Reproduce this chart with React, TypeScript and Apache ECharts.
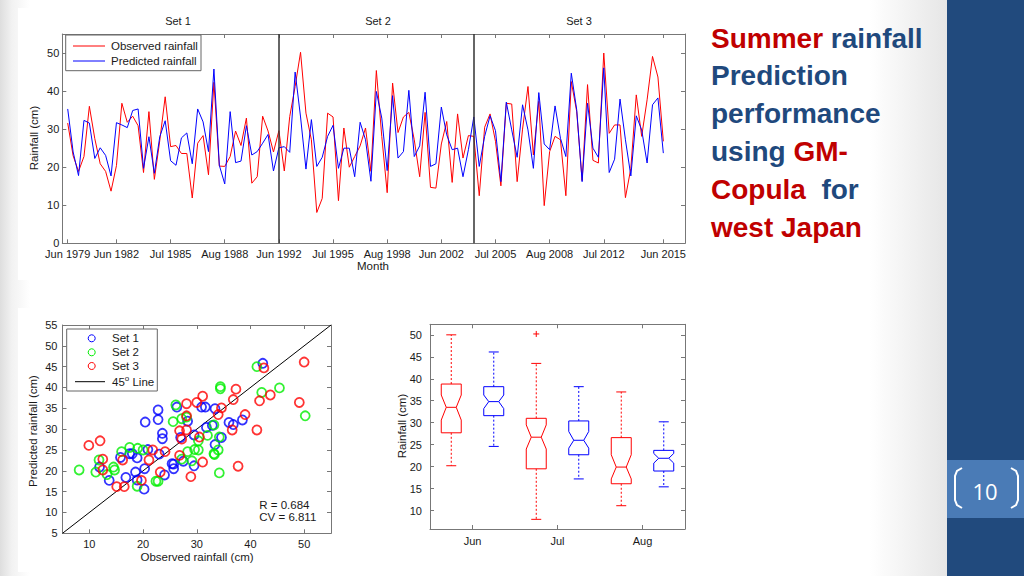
import React, { useEffect, useRef } from "react";
import * as echarts from "echarts";

// ---------- Time series (Jun/Jul/Aug each year, 1979-2015) ----------
const observed = [
  31.6, 23, 18.9, 22.8, 36, 27.5, 20.9, 18.9, 13.7, 20.4,
  36.8, 31.8, 33.4, 30.9, 18.6, 34.6, 16.8, 27, 38.5, 25.4,
  25.7, 23.6, 23.6, 11.9, 26.3, 28.3, 18, 42.3, 20.3, 20.2,
  22.8, 29.5, 25.7, 32.9, 15.8, 17.5, 33.4, 29.5, 24, 29.6,
  19, 33.3, 41.2, 50.2, 34.2, 27.2, 8.1, 11.8, 34.2, 33.2,
  11.2, 30.3, 20, 22.8, 25.6, 30.3, 18.9, 45.4, 28.1, 13.3,
  42.1, 29.1, 33.2, 34.4, 27.2, 17.5, 34.4, 14.7, 14.5, 26.1,
  32, 16, 34, 22.4, 28.3, 28.1, 12.5, 30.5, 34, 26.8,
  15.1, 36.8, 36.6, 16.2, 30, 41.2, 23.2, 37.3, 9.9, 24.1,
  28.1, 27.2, 12.5, 42.5, 34.6, 16.5, 41.7, 21.8, 21.1, 50,
  28.9, 31.1, 31.1, 12, 19.7, 39, 28.1, 37.7, 49.1, 43.7,
  26.8,
];
const predicted = [
  35.3, 24, 17.8, 32.3, 31.6, 22.3, 25.1, 23.1, 17.7, 31.7,
  31.1, 30.4, 34.9, 35.3, 19.7, 28, 18.4, 28, 32.2, 21.7,
  20.5, 27.7, 29, 20.9, 35.3, 31.9, 24.1, 45.8, 20.5, 15.6,
  34.6, 21.2, 21.6, 30.9, 23.2, 24.1, 26.3, 28.6, 19, 25.1,
  25.4, 23.9, 45, 33.2, 19.5, 32.5, 20.2, 22.6, 28.1, 31,
  19.7, 25, 25, 17.5, 31.8, 27.2, 16.3, 39.9, 32.9, 19.1,
  38.8, 22.4, 24.1, 40.2, 22.8, 25.6, 39.7, 20.2, 20.9, 35.8,
  28.5, 24.6, 25, 17.5, 24.6, 33.2, 20.2, 28.1, 33.5, 29.6,
  16.2, 37.1, 29.8, 22.6, 36.4, 29.8, 19.7, 39.6, 26.1, 24.6,
  36.1, 27.6, 22.8, 44.7, 35.1, 16.2, 36.8, 25, 22.6, 46.1,
  18.6, 22.1, 37.9, 27.2, 17.7, 33.5, 29.8, 21.1, 36.4, 38.2,
  23.7,
];
const monthTickPos = [1, 10, 20, 30, 40, 50, 60, 70, 80, 90, 100, 111];
const monthTickLabels = [
  "Jun 1979", "Jun 1982", "Jul 1985", "Aug 1988", "Jun 1992", "Jul 1995",
  "Aug 1998", "Jun 2002", "Jul 2005", "Aug 2008", "Jul 2012", "Jun 2015",
];
const rainTicks = [0, 10, 20, 30, 40, 50];
const setBoundaries = [40, 76];
const setNames = ["Set 1", "Set 2", "Set 3"];
const setRanges = [[0, 39], [39, 75], [75, 111]];
const setColors = ["#0000ff", "#00ee00", "#ff0000"];

// ---------- Scatter ----------
const scatterXTicks = [10, 20, 30, 40, 50];
const scatterYTicks = [5, 10, 15, 20, 25, 30, 35, 40, 45, 50, 55];
const diagLine = [[5, 5], [55, 55]];
const statR = "R = 0.684";
const statCV = "CV = 6.811";

// ---------- Notched box plots ----------
const boxCategories = ["Jun", "Jul", "Aug"];
const boxTickPos = [1.5, 3.5, 5.5];
const boxYTicks = [10, 15, 20, 25, 30, 35, 40, 45, 50];
// [position, lowerWhisker, q1, notchLow, median, notchHigh, q3, upperWhisker]
const boxObserved = [
  [1, 20.2, 27.7, 30.6, 33.5, 36.3, 38.8, 50.0],
  [3, 8.0, 19.5, 24.0, 26.7, 29.5, 31.0, 43.5],
  [5, 11.1, 16.1, 17.2, 19.9, 22.7, 26.6, 37.0],
];
const boxPredicted = [
  [2, 24.6, 31.6, 33.2, 34.8, 36.3, 38.2, 46.1],
  [4, 17.2, 22.7, 24.2, 26.0, 28.0, 30.4, 38.2],
  [6, 15.4, 19.0, 20.8, 21.9, 23.0, 23.7, 30.2],
];
const boxOutliers = [[3, 50.2]];

const FONT = "'Liberation Sans', Arial, Helvetica, sans-serif";
const AXIS_COLOR = "#777";
const TEXT_COLOR = "#1a1a1a";
const RED = "#c00000";
const BLUE = "#1f497d";

function frameAxis(gridIndex: number, position: string, min: number, max: number, ticks: number[], label: any) {
  return {
    type: "value",
    gridIndex,
    position,
    min,
    max,
    axisLine: { show: true, onZero: false, lineStyle: { color: AXIS_COLOR, width: 1 } },
    axisTick: { show: true, inside: true, length: 4, customValues: ticks, lineStyle: { color: AXIS_COLOR } },
    axisLabel: label
      ? { show: true, customValues: ticks, color: TEXT_COLOR, fontSize: 11, lineHeight: 11, fontFamily: FONT, ...label }
      : { show: false },
    splitLine: { show: false },
  };
}

const renderBox = (params: any, api: any) => {
  const x = api.value(0);
  const lo = api.value(1), q1 = api.value(2), nlo = api.value(3), med = api.value(4);
  const nhi = api.value(5), q3 = api.value(6), hi = api.value(7);
  const cx = api.coord([x, med])[0];
  const y = (v: number) => api.coord([x, v])[1];
  const half = api.size([0.47, 0])[0] / 2;
  const inset = half * 0.5;
  const cap = half * 0.5;
  const color = api.visual("color");
  const s = { stroke: color, lineWidth: 1, fill: "none" };
  return {
    type: "group",
    children: [
      {
        type: "polygon",
        shape: {
          points: [
            [cx - half, y(q1)], [cx - half, y(nlo)], [cx - half + inset, y(med)], [cx - half, y(nhi)],
            [cx - half, y(q3)], [cx + half, y(q3)], [cx + half, y(nhi)], [cx + half - inset, y(med)],
            [cx + half, y(nlo)], [cx + half, y(q1)],
          ],
        },
        style: s,
      },
      { type: "line", shape: { x1: cx - half + inset, y1: y(med), x2: cx + half - inset, y2: y(med) }, style: s },
      { type: "line", shape: { x1: cx, y1: y(q3), x2: cx, y2: y(hi) }, style: { ...s, lineDash: [2, 2] } },
      { type: "line", shape: { x1: cx, y1: y(q1), x2: cx, y2: y(lo) }, style: { ...s, lineDash: [2, 2] } },
      { type: "line", shape: { x1: cx - cap, y1: y(hi), x2: cx + cap, y2: y(hi) }, style: s },
      { type: "line", shape: { x1: cx - cap, y1: y(lo), x2: cx + cap, y2: y(lo) }, style: s },
    ],
  };
};

const renderPlus = (params: any, api: any) => {
  const p = api.coord([api.value(0), api.value(1)]);
  const color = api.visual("color");
  const s = { stroke: color, lineWidth: 1 };
  return {
    type: "group",
    children: [
      { type: "line", shape: { x1: p[0] - 3, y1: p[1], x2: p[0] + 3, y2: p[1] }, style: s },
      { type: "line", shape: { x1: p[0], y1: p[1] - 3, x2: p[0], y2: p[1] + 3 }, style: s },
    ],
  };
};

function txt(x: number, y: number, text: string, extra: any = {}, rotation = 0) {
  return {
    type: "text",
    x,
    y,
    rotation,
    z: 10,
    style: {
      text,
      fill: TEXT_COLOR,
      fontSize: 11,
      fontFamily: FONT,
      align: "center",
      verticalAlign: "middle",
      ...extra,
    },
  };
}

function titleLine(y: number, text: string) {
  const base = { fontSize: 28, fontWeight: "bold", fontFamily: FONT };
  return {
    type: "text",
    x: 711,
    y,
    z: 10,
    style: {
      text,
      ...base,
      fill: BLUE,
      align: "left",
      verticalAlign: "middle",
      rich: { r: { ...base, fill: RED }, b: { ...base, fill: BLUE } },
    },
  };
}

function buildOption() {
  const scatterSeries = setRanges.map(([a, b], k) => ({
    name: setNames[k],
    type: "scatter",
    xAxisIndex: 2,
    yAxisIndex: 2,
    symbol: "circle",
    symbolSize: 9,
    itemStyle: { color: "transparent", borderColor: setColors[k], borderWidth: 1.8 },
    data: observed.slice(a, b).map((o, j) => [o, predicted[a + j]]),
    z: 3 + k,
  }));

  return {
    animation: false,
    textStyle: { fontFamily: FONT },
    grid: [
      { left: 62.3, top: 34, width: 622.7, height: 209.3 },
      { left: 62.5, top: 325, width: 268.5, height: 208.3 },
      { left: 430, top: 324.3, width: 255, height: 204.7 },
    ],
    xAxis: [
      frameAxis(0, "bottom", 0, 115, monthTickPos, {
        margin: 5,
        formatter: (v: number) => monthTickLabels[monthTickPos.indexOf(v)] ?? "",
      }),
      frameAxis(0, "top", 0, 115, monthTickPos, null),
      frameAxis(1, "bottom", 5, 55, scatterXTicks, { margin: 5 }),
      frameAxis(1, "top", 5, 55, scatterXTicks, null),
      frameAxis(2, "bottom", 0.5, 6.5, boxTickPos, {
        margin: 6,
        formatter: (v: number) => boxCategories[boxTickPos.indexOf(v)] ?? "",
      }),
      frameAxis(2, "top", 0.5, 6.5, boxTickPos, null),
    ],
    yAxis: [
      frameAxis(0, "left", 0, 55, rainTicks, { margin: 3 }),
      frameAxis(0, "right", 0, 55, rainTicks, null),
      frameAxis(1, "left", 5, 55, scatterYTicks, { margin: 5 }),
      frameAxis(1, "right", 5, 55, scatterYTicks, null),
      frameAxis(2, "left", 5.8, 52.4, boxYTicks, { margin: 8 }),
      frameAxis(2, "right", 5.8, 52.4, boxYTicks, null),
    ],
    series: [
      {
        name: "Observed rainfall",
        type: "line",
        xAxisIndex: 0,
        yAxisIndex: 0,
        data: observed.map((v, i) => [i + 1, v]),
        showSymbol: false,
        symbol: "none",
        lineStyle: { color: "#ff0000", width: 1 },
        itemStyle: { color: "#ff0000" },
        z: 2,
        markLine: {
          silent: true,
          symbol: "none",
          label: { show: false },
          lineStyle: { color: "#333", width: 1.5, type: "solid" },
          data: setBoundaries.map((b) => ({ xAxis: b })),
        },
      },
      {
        name: "Predicted rainfall",
        type: "line",
        xAxisIndex: 0,
        yAxisIndex: 0,
        data: predicted.map((v, i) => [i + 1, v]),
        showSymbol: false,
        symbol: "none",
        lineStyle: { color: "#0000ff", width: 1 },
        itemStyle: { color: "#0000ff" },
        z: 3,
      },
      {
        name: "45 Line",
        type: "line",
        xAxisIndex: 2,
        yAxisIndex: 2,
        data: diagLine,
        showSymbol: false,
        symbol: "none",
        lineStyle: { color: "#000", width: 1 },
        z: 2,
      },
      ...scatterSeries,
      {
        name: "Observed box",
        type: "custom",
        xAxisIndex: 4,
        yAxisIndex: 4,
        renderItem: renderBox,
        itemStyle: { color: "#ff0000" },
        encode: { x: 0, y: [1, 2, 3, 4, 5, 6, 7] },
        data: boxObserved,
      },
      {
        name: "Predicted box",
        type: "custom",
        xAxisIndex: 4,
        yAxisIndex: 4,
        renderItem: renderBox,
        itemStyle: { color: "#0000ff" },
        encode: { x: 0, y: [1, 2, 3, 4, 5, 6, 7] },
        data: boxPredicted,
      },
      {
        name: "Outliers",
        type: "custom",
        xAxisIndex: 4,
        yAxisIndex: 4,
        renderItem: renderPlus,
        itemStyle: { color: "#ff0000" },
        encode: { x: 0, y: 1 },
        data: boxOutliers,
      },
    ],
    graphic: [
      // Top chart titles and axis names
      txt(178, 21, setNames[0]),
      txt(378, 21, setNames[1]),
      txt(579, 21, setNames[2]),
      txt(373, 266, "Month", { fontSize: 11.5 }),
      txt(34, 138, "Rainfall (cm)", { fontSize: 11.5 }, Math.PI / 2),
      // Top legend
      { type: "rect", z: 9, shape: { x: 65.7, y: 35, width: 135.3, height: 35.7 }, style: { fill: "#fff", stroke: "#666", lineWidth: 1 } },
      { type: "line", z: 10, shape: { x1: 73, y1: 46, x2: 105, y2: 46 }, style: { stroke: "#ff0000", lineWidth: 1 } },
      { type: "line", z: 10, shape: { x1: 73, y1: 61, x2: 105, y2: 61 }, style: { stroke: "#0000ff", lineWidth: 1 } },
      txt(111, 46, "Observed rainfall", { align: "left", fontSize: 11.5 }),
      txt(111, 61, "Predicted rainfall", { align: "left", fontSize: 11.5 }),
      // Scatter axis names, legend, stats
      txt(33, 431, "Predicted rainfall (cm)", { fontSize: 11.5 }, Math.PI / 2),
      txt(197, 557, "Observed rainfall (cm)", { fontSize: 11.5 }),
      { type: "rect", z: 9, shape: { x: 66.7, y: 329, width: 90.6, height: 62 }, style: { fill: "#fff", stroke: "#666", lineWidth: 1 } },
      { type: "circle", z: 10, shape: { cx: 91.7, cy: 338.3, r: 3.5 }, style: { fill: "none", stroke: setColors[0], lineWidth: 1 } },
      { type: "circle", z: 10, shape: { cx: 91.7, cy: 352.3, r: 3.5 }, style: { fill: "none", stroke: setColors[1], lineWidth: 1 } },
      { type: "circle", z: 10, shape: { cx: 91.7, cy: 366, r: 3.5 }, style: { fill: "none", stroke: setColors[2], lineWidth: 1 } },
      { type: "line", z: 10, shape: { x1: 75, y1: 381.7, x2: 105, y2: 381.7 }, style: { stroke: "#000", lineWidth: 1 } },
      txt(112, 338.3, setNames[0], { align: "left", fontSize: 11.5 }),
      txt(112, 352.3, setNames[1], { align: "left", fontSize: 11.5 }),
      txt(112, 366, setNames[2], { align: "left", fontSize: 11.5 }),
      txt(112, 381.7, "45{sup|o} Line", {
        align: "left",
        fontSize: 11.5,
        lineHeight: 14,
        rich: { sup: { fontSize: 8, fontFamily: FONT, fill: TEXT_COLOR, verticalAlign: "top", lineHeight: 14 } },
      }),
      txt(259.3, 505, statR, { align: "left", fontSize: 11.5 }),
      txt(259.3, 517.3, statCV, { align: "left", fontSize: 11.5 }),
      // Box plot axis name
      txt(402, 426, "Rainfall (cm)", { fontSize: 11.5 }, Math.PI / 2),
      // Slide title
      titleLine(38, "{r|Summer} {b|rainfall}"),
      titleLine(75.8, "{b|Prediction}"),
      titleLine(113.6, "{b|performance}"),
      titleLine(151.4, "{b|using} {r|GM-}"),
      titleLine(189.2, "{r|Copula}  {b|for}"),
      titleLine(227, "{r|west Japan}"),
      // Page number
      {
        type: "polyline",
        z: 10,
        shape: { points: [[962, 468], [957, 471], [955, 476], [955, 500], [957, 505], [962, 508]] },
        style: { stroke: "#fff", lineWidth: 2, fill: "none" },
      },
      {
        type: "polyline",
        z: 10,
        shape: { points: [[1011, 468], [1016, 471], [1018, 476], [1018, 500], [1016, 505], [1011, 508]] },
        style: { stroke: "#fff", lineWidth: 2, fill: "none" },
      },
      txt(985, 491, "10", { fill: "#fff", fontSize: 22, fontFamily: "'Open Sans', Lato, sans-serif" }),
    ],
  };
}

export default function App() {
  const ref = useRef<HTMLDivElement>(null);
  useEffect(() => {
    if (!ref.current) return;
    const chart = echarts.init(ref.current, null, { renderer: "svg" });
    chart.setOption(buildOption() as any);
    return () => chart.dispose();
  }, []);
  return (
    <div
      style={{
        position: "absolute",
        left: 0,
        top: 0,
        width: 1024,
        height: 576,
        overflow: "hidden",
        background:
          "linear-gradient(to right, #dedede 0px, #f2f2f2 12px, #ffffff 30px, #ffffff 870px, #e6e6e6 947px)",
      }}
    >
      <div style={{ position: "absolute", left: 18, top: 8, width: 684, height: 272, background: "#fff" }} />
      <div style={{ position: "absolute", left: 18, top: 308, width: 336, height: 264, background: "#fff" }} />
      <div style={{ position: "absolute", left: 947, top: 0, width: 77, height: 576, background: "#214a7d" }} />
      <div style={{ position: "absolute", left: 947, top: 460, width: 77, height: 58, background: "#4a7bb6" }} />
      <div ref={ref} style={{ position: "absolute", left: 0, top: 0, width: 1024, height: 576 }} />
    </div>
  );
}
